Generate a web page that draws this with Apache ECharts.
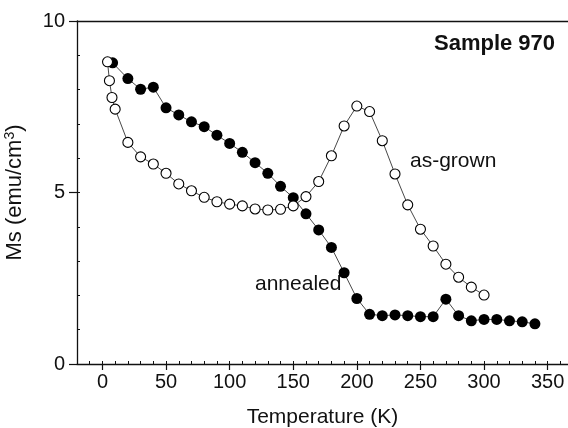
<!DOCTYPE html>
<html lang="en">
<head>
    <meta charset="UTF-8">
    <title>Ms vs Temperature - Sample 970</title>
    <script src="https://cdn.jsdelivr.net/npm/echarts@6/dist/echarts.min.js"></script>
    <style>
        body, html {
            margin: 0;
            height: 100%;
            background: #fff;
        }

        #chart {
            width: 568px;
            height: 428px;
        }
    </style>
</head>
<body>
<div id="chart"></div>
<script>
    // annealed sample (filled circles)
    const annealedT = [8, 20, 30, 40, 50, 60, 70, 80, 90, 100, 110, 120, 130, 140, 150, 160, 170, 180, 190, 200,
        210, 220, 230, 240, 250, 260, 270, 280, 290, 300, 310, 320, 330, 340];
    const annealedMs = [8.78, 8.32, 8.01, 8.07, 7.47, 7.26, 7.06, 6.92, 6.67, 6.43, 6.17, 5.87, 5.56, 5.18, 4.85, 4.38, 3.91, 3.40, 2.66, 1.91,
        1.45, 1.41, 1.43, 1.41, 1.38, 1.38, 1.89, 1.41, 1.26, 1.30, 1.30, 1.26, 1.23, 1.17];

    // as-grown sample (open circles)
    const grownT = [4, 5.5, 7.5, 10, 20, 30, 40, 50, 60, 70, 80, 90, 100, 110, 120, 130, 140, 150, 160, 170,
        180, 190, 200, 210, 220, 230, 240, 250, 260, 270, 280, 290, 300];
    const grownMs = [8.81, 8.26, 7.77, 7.43, 6.46, 6.04, 5.83, 5.56, 5.25, 5.05, 4.86, 4.73, 4.66, 4.61, 4.52, 4.49, 4.51, 4.61, 4.88, 5.32,
        6.07, 6.94, 7.52, 7.36, 6.51, 5.54, 4.64, 3.93, 3.44, 2.91, 2.53, 2.24, 2.01];

    // axis ticks
    const xMajorTicks = [0, 50, 100, 150, 200, 250, 300, 350];
    const xMin = -20, xMax = 366;
    const yMin = 0, yMax = 10;

    const font = '"Liberation Sans", Arial, sans-serif';
    const ink = '#111';

    const zip = (xs, ys) => xs.map((x, i) => [x, ys[i]]);

    const chart = echarts.init(document.getElementById('chart'));

    const option = {
        animation: false,
        backgroundColor: '#fff',
        grid: {left: 77, right: 0, top: 21, bottom: 64, outerBoundsMode: 'none'},
        xAxis: [
            {   // major ticks + labels
                type: 'value', min: xMin, max: xMax, position: 'bottom',
                name: 'Temperature (K)', nameLocation: 'middle', nameGap: 43,
                nameTextStyle: {fontFamily: font, fontSize: 21, color: ink},
                axisLine: {show: true, onZero: false, lineStyle: {color: ink, width: 1.3}},
                axisTick: {show: true, customValues: xMajorTicks, length: 6, lineStyle: {color: ink, width: 1.2}},
                axisLabel: {customValues: xMajorTicks, margin: 8, fontFamily: font, fontSize: 20, color: ink},
                splitLine: {show: false}
            },
            {   // minor ticks, pointing in
                type: 'value', min: xMin, max: xMax, interval: 10, position: 'bottom',
                axisLine: {show: false, onZero: false},
                axisTick: {show: true, inside: true, length: 3, lineStyle: {color: ink, width: 1}},
                axisLabel: {show: false},
                splitLine: {show: false}
            },
            {   // top frame line
                type: 'value', min: xMin, max: xMax, position: 'top',
                axisLine: {show: true, onZero: false, lineStyle: {color: ink, width: 1.3}},
                axisTick: {show: false},
                axisLabel: {show: false},
                splitLine: {show: false}
            }
        ],
        yAxis: [
            {
                type: 'value', min: yMin, max: yMax, interval: 5, position: 'left',
                name: 'Ms (emu/cm{sup|3})', nameLocation: 'middle', nameGap: 50, nameRotate: 90,
                nameTextStyle: {
                    fontFamily: font, fontSize: 22, color: ink,
                    rich: {sup: {fontFamily: font, fontSize: 14, color: ink, verticalAlign: 'top', padding: [0, 0, 10, 0]}}
                },
                axisLine: {show: true, onZero: false, lineStyle: {color: ink, width: 1.3}},
                axisTick: {show: true, length: 8, lineStyle: {color: ink, width: 1.2}},
                axisLabel: {margin: 12, fontFamily: font, fontSize: 20, color: ink},
                splitLine: {show: false}
            },
            {   // minor ticks, pointing in
                type: 'value', min: yMin, max: yMax, interval: 1, position: 'left',
                axisLine: {show: false, onZero: false},
                axisTick: {show: true, inside: true, length: 3, lineStyle: {color: ink, width: 1}},
                axisLabel: {show: false},
                splitLine: {show: false}
            }
        ],
        series: [
            {
                name: 'annealed',
                type: 'line',
                data: zip(annealedT, annealedMs),
                symbol: 'circle',
                symbolSize: 11,
                itemStyle: {color: '#000', borderColor: '#000', borderWidth: 0},
                lineStyle: {color: '#333', width: 0.9}
            },
            {
                name: 'as-grown',
                type: 'line',
                data: zip(grownT, grownMs),
                symbol: 'circle',
                symbolSize: 10,
                itemStyle: {color: '#fff', borderColor: '#000', borderWidth: 1.1},
                lineStyle: {color: '#333', width: 0.9}
            }
        ],
        graphic: [
            {type: 'text', left: 434, top: 33, style: {text: 'Sample 970', font: 'bold 22px ' + font, fill: ink}},
            {type: 'text', left: 410, top: 151, style: {text: 'as-grown', font: '21px ' + font, fill: ink}},
            {type: 'text', left: 255, top: 274, style: {text: 'annealed', font: '21px ' + font, fill: ink}}
        ]
    };

    chart.setOption(option);
</script>
</body>
</html>
